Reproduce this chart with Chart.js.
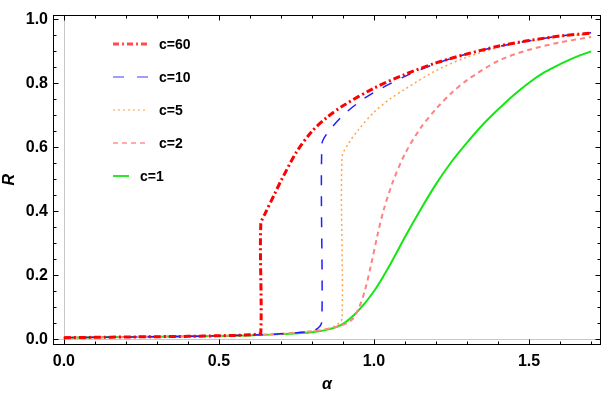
<!DOCTYPE html>
<html>
<head>
<meta charset="utf-8">
<script src="https://cdn.jsdelivr.net/npm/chart.js@4.4.1/dist/chart.umd.min.js"></script>
<style>
  html, body { margin: 0; padding: 0; background: #fff; }
  #wrap { width: 604px; height: 396px; position: relative; }
</style>
</head>
<body>
<div id="wrap"><canvas id="chart"></canvas></div>
<script>
const seriesLabels = ['c=60', 'c=10', 'c=5', 'c=2', 'c=1'];

const alphaC60 = [0, 0.1, 0.2, 0.3, 0.4, 0.5, 0.55, 0.6, 0.62, 0.635, 0.635, 0.65, 0.68, 0.7, 0.75, 0.8, 0.85, 0.9, 1.0, 1.1, 1.2, 1.3, 1.4, 1.5, 1.6, 1.7];
const rC60 = [0.005, 0.006, 0.007, 0.008, 0.009, 0.011, 0.012, 0.014, 0.016, 0.02, 0.36, 0.395, 0.455, 0.495, 0.585, 0.65, 0.695, 0.73, 0.785, 0.828, 0.864, 0.892, 0.916, 0.934, 0.948, 0.957];

const alphaC10 = [0, 0.2, 0.4, 0.6, 0.7, 0.75, 0.8, 0.82, 0.832, 0.832, 0.85, 0.9, 0.95, 1.0, 1.1, 1.2, 1.3, 1.4, 1.5, 1.6, 1.7];
const rC10 = [0.005, 0.007, 0.009, 0.013, 0.017, 0.02, 0.026, 0.035, 0.055, 0.61, 0.645, 0.70, 0.74, 0.772, 0.822, 0.862, 0.892, 0.915, 0.933, 0.948, 0.958];

const alphaC5 = [0, 0.2, 0.4, 0.6, 0.7, 0.8, 0.85, 0.88, 0.897, 0.897, 0.92, 0.95, 1.0, 1.05, 1.1, 1.2, 1.3, 1.4, 1.5, 1.6, 1.7];
const rC5 = [0.005, 0.007, 0.009, 0.013, 0.017, 0.025, 0.033, 0.045, 0.065, 0.57, 0.615, 0.655, 0.71, 0.75, 0.782, 0.84, 0.882, 0.912, 0.932, 0.946, 0.955];

const alphaC2 = [0, 0.2, 0.4, 0.6, 0.7, 0.8, 0.85, 0.9, 0.93, 0.95, 0.97, 0.99, 1.01, 1.03, 1.06, 1.1, 1.15, 1.2, 1.25, 1.3, 1.4, 1.5, 1.6, 1.7];
const rC2 = [0.005, 0.007, 0.009, 0.013, 0.017, 0.025, 0.032, 0.045, 0.062, 0.095, 0.15, 0.23, 0.32, 0.4, 0.49, 0.58, 0.66, 0.72, 0.77, 0.81, 0.87, 0.905, 0.928, 0.945];

const alphaC1 = [0, 0.2, 0.4, 0.6, 0.7, 0.8, 0.85, 0.9, 0.95, 1.0, 1.05, 1.1, 1.15, 1.2, 1.25, 1.3, 1.35, 1.4, 1.45, 1.5, 1.55, 1.6, 1.65, 1.7];
const rC1 = [0.005, 0.007, 0.009, 0.012, 0.016, 0.022, 0.03, 0.048, 0.09, 0.15, 0.23, 0.32, 0.405, 0.485, 0.555, 0.615, 0.67, 0.718, 0.763, 0.802, 0.835, 0.86, 0.882, 0.9];

const xTicks = [0, 0.5, 1.0, 1.5];
const yTicks = [0, 0.2, 0.4, 0.6, 0.8, 1.0];

const toPoints = (xs, ys) => xs.map((x, i) => ({ x, y: ys[i] }));

const styles = [
  { color: 'rgb(255, 0, 0)', width: 3, dash: [7, 3, 2, 3], legendDash: [6, 3, 2, 3], legend: 'rgba(255, 0, 0, 0.7)', len: 35 },
  { color: 'rgb(30, 30, 255)', width: 1.5, dash: [10, 11], legendDash: [11, 13], legend: 'rgba(80, 80, 255, 0.75)', len: 35 },
  { color: 'rgb(255, 165, 80)', width: 1.5, dash: [2, 3], legendDash: [2, 3], legend: 'rgba(255, 170, 90, 0.8)', len: 35 },
  { color: 'rgb(255, 130, 130)', width: 2, dash: [5, 4], legendDash: [5, 4], legend: 'rgba(255, 150, 150, 0.8)', len: 35 },
  { color: 'rgb(20, 230, 20)', width: 2, dash: [], legendDash: [], legend: 'rgb(40, 235, 40)', len: 16 },
];

const seriesData = [
  toPoints(alphaC60, rC60),
  toPoints(alphaC10, rC10),
  toPoints(alphaC5, rC5),
  toPoints(alphaC2, rC2),
  toPoints(alphaC1, rC1),
];

const FONT = '"Liberation Sans", Arial, sans-serif';

const framePlugin = {
  id: 'frame',
  beforeDatasetsDraw(chart) {
    const { ctx, chartArea: a, scales: { x, y } } = chart;
    ctx.save();
    ctx.strokeStyle = 'rgb(200, 200, 200)';
    ctx.lineWidth = 1;
    const x0 = Math.round(x.getPixelForValue(0)) + 0.5;
    const y0 = Math.round(y.getPixelForValue(0)) + 0.5;
    ctx.beginPath();
    ctx.moveTo(x0, a.top);
    ctx.lineTo(x0, a.bottom);
    ctx.moveTo(a.left, y0);
    ctx.lineTo(a.right, y0);
    ctx.stroke();
    ctx.restore();
  },
  afterDatasetsDraw(chart) {
    const { ctx, chartArea: a, scales: { x, y } } = chart;
    ctx.save();
    ctx.strokeStyle = '#000';
    ctx.lineWidth = 1;
    const L = Math.round(a.left) + 0.5, R = Math.round(a.right) - 0.5;
    const T = Math.round(a.top) + 0.5, B = Math.round(a.bottom) - 0.5;
    ctx.strokeRect(L, T, R - L, B - T);
    ctx.beginPath();
    for (let k = 0; k <= 17; k++) {
      const v = k / 10;
      const len = k % 5 === 0 ? 5 : 3;
      const px = Math.round(x.getPixelForValue(v)) + 0.5;
      ctx.moveTo(px, B); ctx.lineTo(px, B - len);
      ctx.moveTo(px, T); ctx.lineTo(px, T + len);
    }
    for (let k = 0; k <= 20; k++) {
      const v = k / 20;
      const len = k % 4 === 0 ? 5 : 3;
      const py = Math.round(y.getPixelForValue(v)) + 0.5;
      ctx.moveTo(L, py); ctx.lineTo(L + len, py);
      ctx.moveTo(R, py); ctx.lineTo(R - len, py);
    }
    ctx.stroke();
    ctx.restore();
  },
  afterDraw(chart) {
    const { ctx } = chart;
    ctx.save();
    ctx.font = 'bold 14px ' + FONT;
    ctx.textBaseline = 'middle';
    seriesLabels.forEach((label, i) => {
      const s = styles[i];
      const yy = 44 + i * 33;
      const x1 = 113;
      ctx.strokeStyle = s.legend;
      ctx.lineWidth = s.width;
      ctx.setLineDash(s.legendDash);
      ctx.beginPath();
      ctx.moveTo(x1, yy);
      ctx.lineTo(x1 + s.len, yy);
      ctx.stroke();
      ctx.setLineDash([]);
      ctx.fillStyle = '#000';
      ctx.fillText(label, s.len > 20 ? 159 : 140, yy + 1);
    });
    ctx.restore();
  },
};

new Chart(document.getElementById('chart'), {
  type: 'scatter',
  data: {
    datasets: seriesData.map((pts, i) => ({
      label: seriesLabels[i],
      data: pts,
      showLine: true,
      borderColor: styles[i].color,
      borderWidth: styles[i].width,
      borderDash: styles[i].dash,
      pointRadius: 0,
      tension: 0.3,
      fill: false,
    })),
  },
  options: {
    responsive: true,
    maintainAspectRatio: false,
    animation: false,
    layout: { padding: { top: 4, right: 3, left: 0, bottom: 0 } },
    plugins: {
      legend: { display: false },
      tooltip: { enabled: false },
    },
    scales: {
      x: {
        type: 'linear',
        min: -0.035,
        max: 1.732,
        grid: { display: false, drawTicks: false },
        border: { display: false },
        afterBuildTicks: (s) => { s.ticks = xTicks.map((v) => ({ value: v })); },
        afterFit: (s) => { s.height = 51; },
        ticks: {
          padding: 7,
          color: '#000',
          font: { family: FONT, size: 16, weight: 'bold' },
          callback: (v) => Number(v).toFixed(1),
          maxRotation: 0,
        },
        title: {
          display: true,
          text: 'α',
          color: '#000',
          padding: { top: 0, bottom: 2 },
          font: { family: FONT, size: 16, style: 'italic', weight: 'bold' },
        },
      },
      y: {
        min: -0.018,
        max: 1.015,
        grid: { display: false, drawTicks: false },
        border: { display: false },
        afterBuildTicks: (s) => { s.ticks = yTicks.map((v) => ({ value: v })); },
        afterFit: (s) => { s.width = 53; },
        ticks: {
          padding: 5,
          color: '#000',
          font: { family: FONT, size: 16, weight: 'bold' },
          callback: (v) => Number(v).toFixed(1),
        },
        title: {
          display: true,
          text: 'R',
          color: '#000',
          padding: { top: 0, bottom: 0 },
          font: { family: FONT, size: 16, style: 'italic', weight: 'bold' },
        },
      },
    },
  },
  plugins: [framePlugin],
});
</script>
</body>
</html>
